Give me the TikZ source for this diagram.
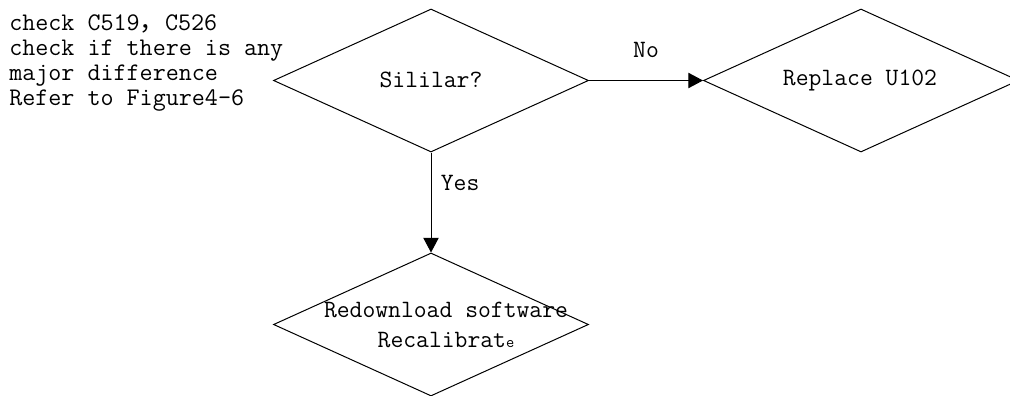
\documentclass[tikz,border=0pt]{standalone}
\usepackage{fontspec}
\newfontfamily\cjk{Noto Sans CJK SC}
\usetikzlibrary{shapes.geometric,arrows.meta}
\begin{document}
\begin{tikzpicture}[x=0.75pt,y=-0.75pt,
  box/.style={draw=black,line width=0.75pt,diamond,minimum width=236.25pt,minimum height=107.25pt,inner sep=0pt},
  txt/.style={inner sep=0pt,font=\ttfamily\fontsize{18.7}{22.5}\selectfont,align=center},
  note/.style={inner sep=0pt,font=\ttfamily\fontsize{19}{18.75}\selectfont,align=left,anchor=north west},
  conn/.style={line width=0.75pt,-{Triangle[length=11pt,width=11.5pt]}}]
\useasboundingbox (0,0) rectangle (1010,396);
\clip (0,0) rectangle (1010,396);
\fill[white] (0,0) rectangle (1010,396);
\node[box] (d1) at (431,80.5) {};
\node[box] (d2) at (861,80.5) {};
\node[box] (d3) at (431,324.5) {};
\node[txt] (t1) at (431,80) {Sililar?};
\node[txt] (t2) at (860,80) {Replace U102};
\node[txt] (t3) at (446,325) {Redownload software\\Recalibrat{\fontsize{12}{12}\selectfont e}};
\node[note] (n1) at (9,14) {check C519{\cjk ，}C526\\check if there is any\\major difference\\Refer to Figure4-6};
\draw[conn] (d1.east) -- node[txt,above=17pt] (lno) {No} (d2.west);
\draw[conn] (d1.south) -- node[txt,right=7pt,pos=0.3] (lyes) {Yes} (d3.north);
\end{tikzpicture}
\end{document}
